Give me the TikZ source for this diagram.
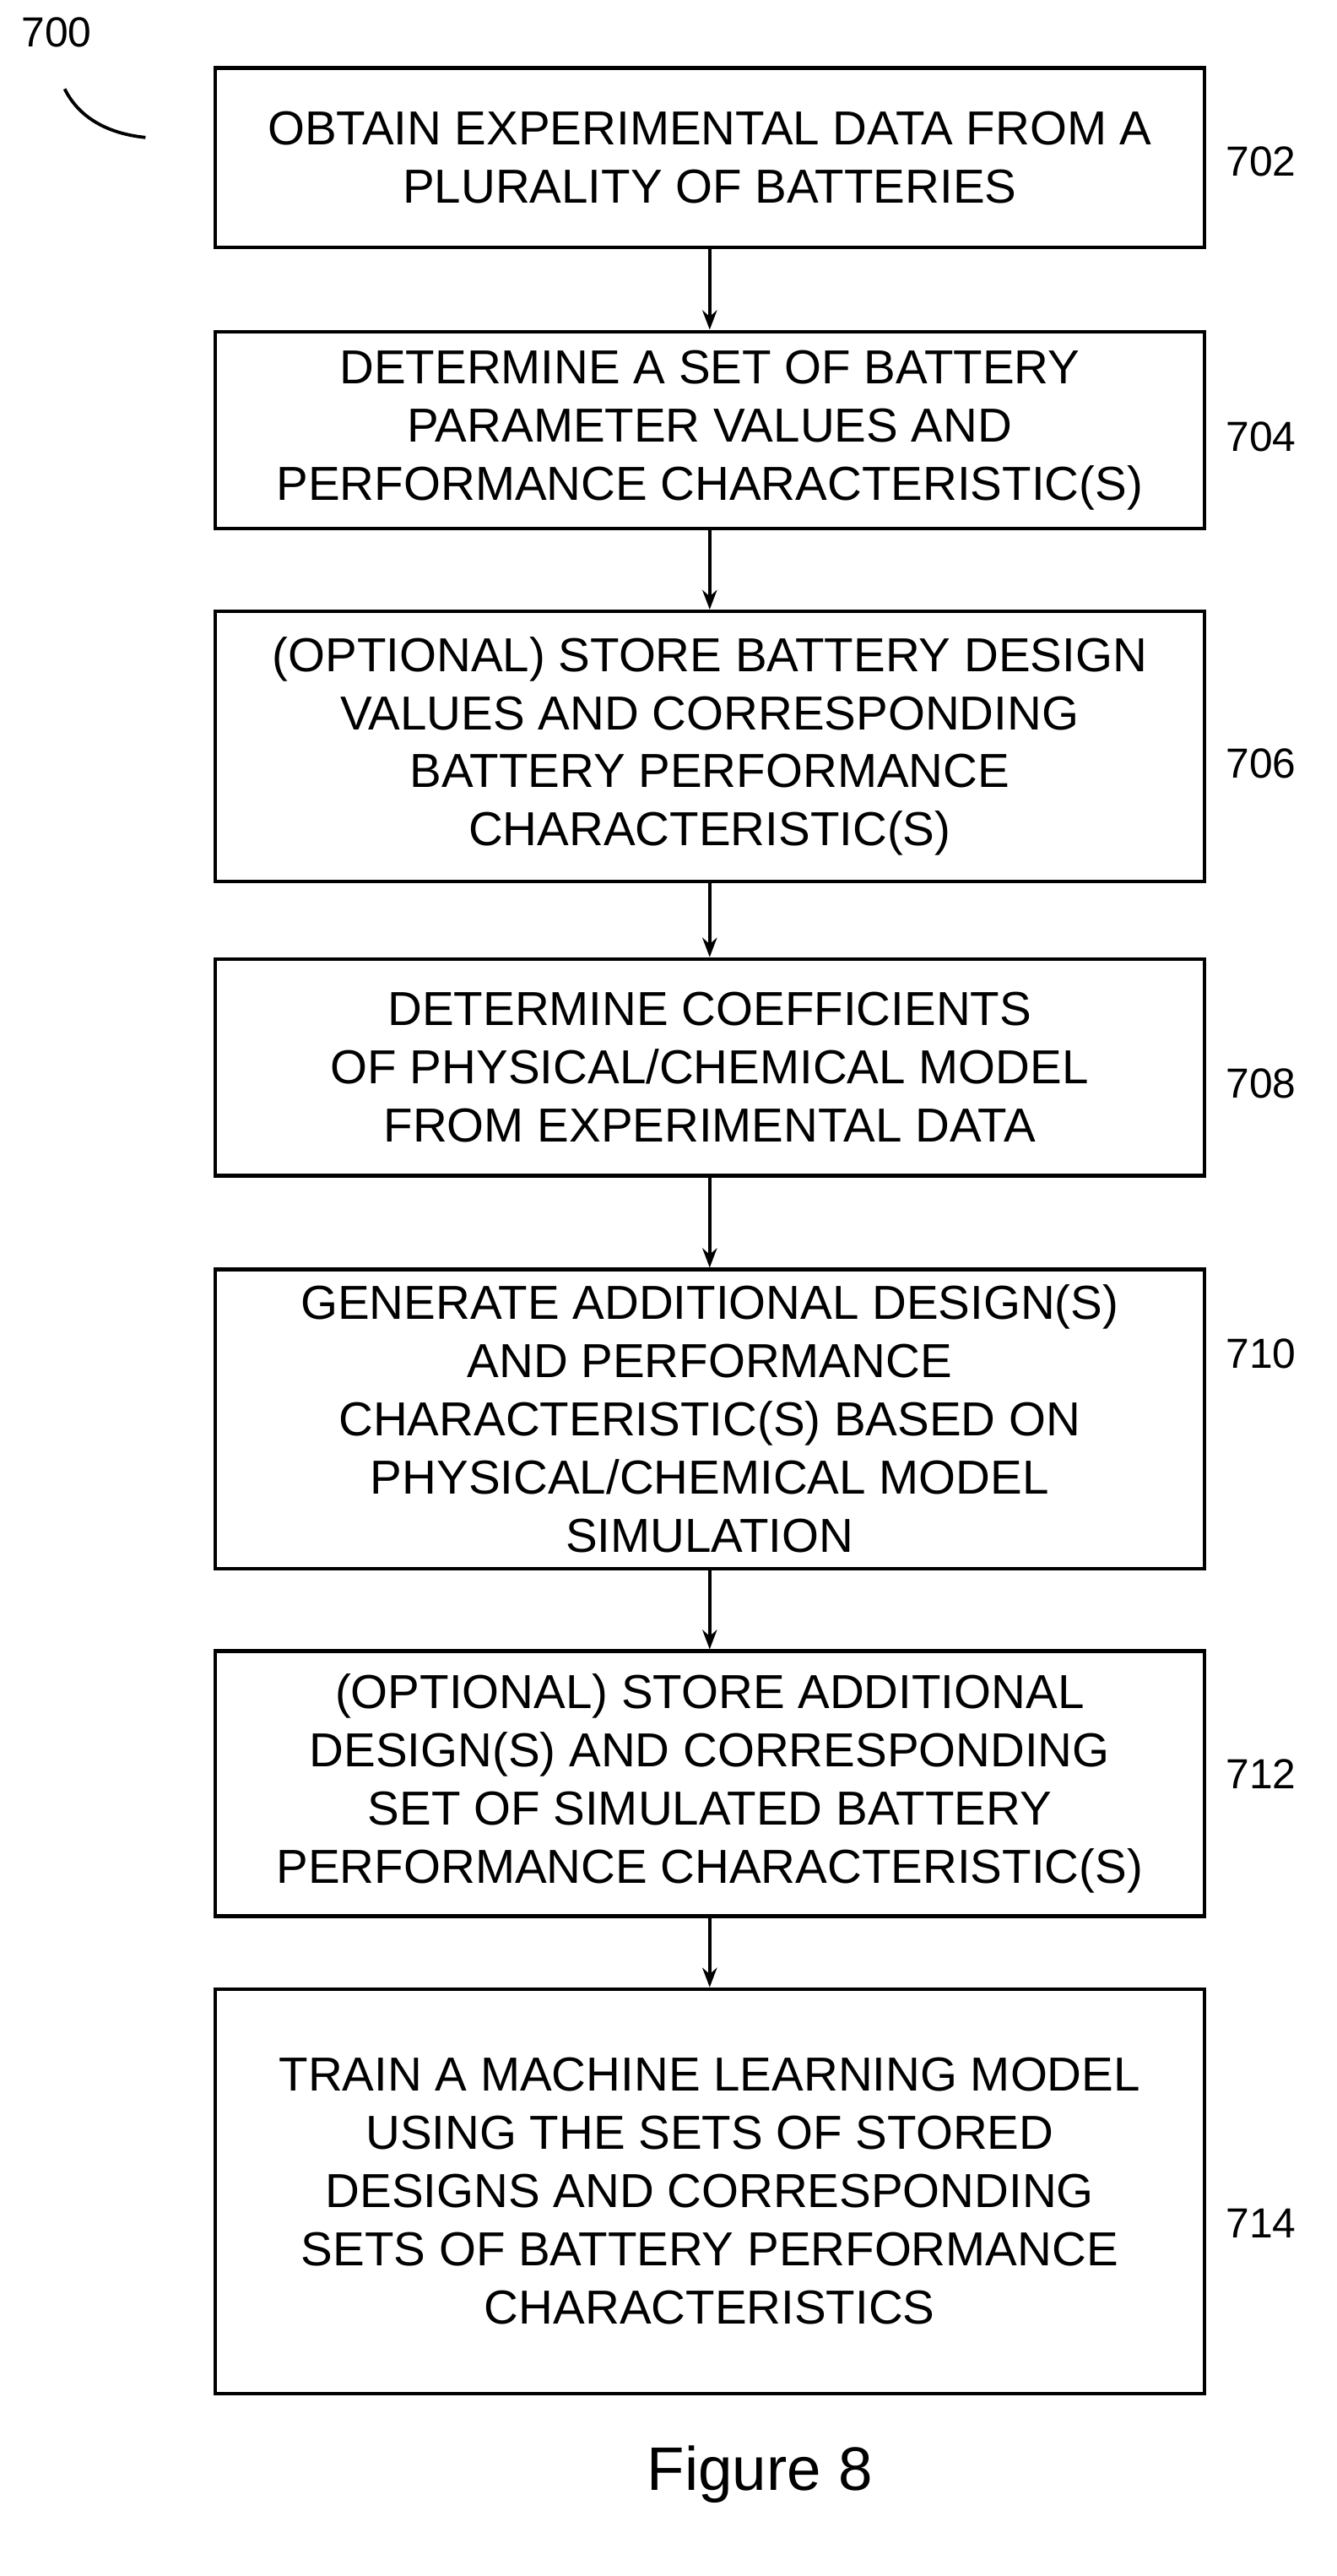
\documentclass[tikz,border=0pt]{standalone}
\usepackage{fontspec}
\setmainfont{Liberation Sans}
\usetikzlibrary{arrows.meta}
\begin{document}
\begin{tikzpicture}[x=1pt,y=-1pt,
  box/.style={draw,line width=2.2pt,minimum width=612pt,inner sep=0pt,align=center,font=\fontsize{29.5}{36}\selectfont},
  lbl/.style={font=\fontsize{26}{30}\selectfont},
  arr/.style={line width=2pt,-{Stealth[length=12pt,width=9pt]}}]
\useasboundingbox (0,0) rectangle (827,1593);
\def\bx#1#2#3#4{\node[box,minimum height=#3-#2] (#1) at (439,{(#2+#3)/2}) {#4};}
\bx{b702}{42}{153}{OBTAIN EXPERIMENTAL DATA FROM A\\PLURALITY OF BATTERIES}
\bx{b704}{205}{327}{DETERMINE A SET OF BATTERY\\PARAMETER VALUES AND\\PERFORMANCE CHARACTERISTIC(S)}
\bx{b706}{378}{545}{(OPTIONAL) STORE BATTERY DESIGN\\VALUES AND CORRESPONDING\\BATTERY PERFORMANCE\\CHARACTERISTIC(S)}
\bx{b708}{593}{727}{DETERMINE COEFFICIENTS\\OF PHYSICAL/CHEMICAL MODEL\\FROM EXPERIMENTAL DATA}
\bx{b710}{785}{970}{GENERATE ADDITIONAL DESIGN(S)\\AND PERFORMANCE\\CHARACTERISTIC(S) BASED ON\\PHYSICAL/CHEMICAL MODEL\\SIMULATION}
\bx{b712}{1021}{1185}{(OPTIONAL) STORE ADDITIONAL\\DESIGN(S) AND CORRESPONDING\\SET OF SIMULATED BATTERY\\PERFORMANCE CHARACTERISTIC(S)}
\bx{b714}{1230}{1480}{TRAIN A MACHINE LEARNING MODEL\\USING THE SETS OF STORED\\DESIGNS AND CORRESPONDING\\SETS OF BATTERY PERFORMANCE\\CHARACTERISTICS}
\node[lbl] (l702) at (780,100) {702};
\node[lbl] (l704) at (780,270) {704};
\node[lbl] (l706) at (780,472) {706};
\node[lbl] (l708) at (780,670) {708};
\node[lbl] (l710) at (780,837) {710};
\node[lbl] (l712) at (780,1097) {712};
\node[lbl] (l714) at (780,1375) {714};
\node[lbl] (l700) at (35,20) {700};
\coordinate (c1) at (40,55);
\coordinate (c2) at (90,85);
\draw[line width=2pt] (c1) .. controls (50,75) and (70,83) .. (c2);
\draw[arr] (b702) -- (b704);
\draw[arr] (b704) -- (b706);
\draw[arr] (b706) -- (b708);
\draw[arr] (b708) -- (b710);
\draw[arr] (b710) -- (b712);
\draw[arr] (b712) -- (b714);
\node[font=\fontsize{38}{42}\selectfont] (fig) at (470,1530) {Figure 8};
\end{tikzpicture}
\end{document}
